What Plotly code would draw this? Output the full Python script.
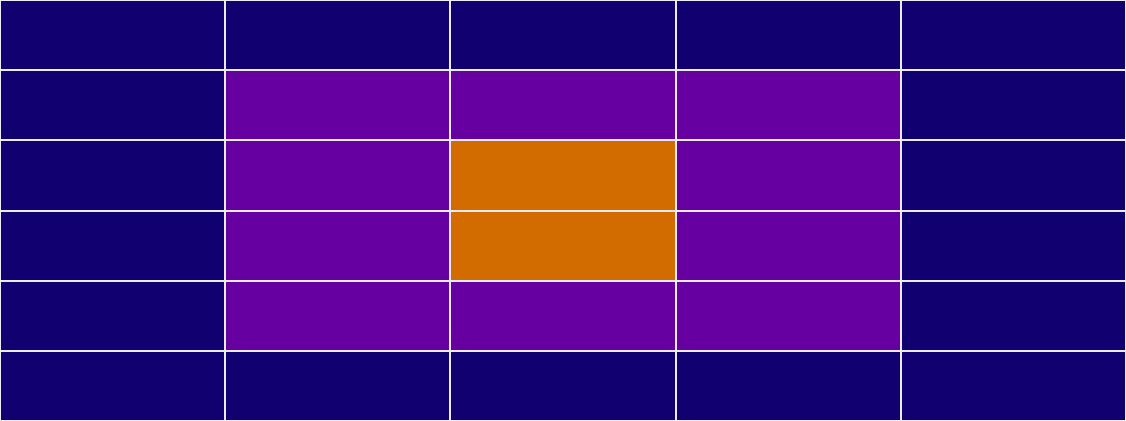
import plotly.graph_objects as go

columns = ["C1", "C2", "C3", "C4", "C5"]
rows = ["R1", "R2", "R3", "R4", "R5", "R6"]
values = [
    [0, 0, 0, 0, 0],
    [0, 1, 1, 1, 0],
    [0, 1, 2, 1, 0],
    [0, 1, 2, 1, 0],
    [0, 1, 1, 1, 0],
    [0, 0, 0, 0, 0],
]
colors = ["#110070", "#6600a0", "#d26c00"]

colorscale = [
    [0.0, colors[0]], [1/3, colors[0]],
    [1/3, colors[1]], [2/3, colors[1]],
    [2/3, colors[2]], [1.0, colors[2]],
]

fig = go.Figure(go.Heatmap(
    z=values, x=columns, y=rows,
    colorscale=colorscale, zmin=-0.5, zmax=2.5,
    showscale=False, xgap=2, ygap=2, hoverinfo="skip",
))
fig.update_layout(
    width=1126, height=421,
    margin=dict(l=0, r=0, t=0, b=0),
    paper_bgcolor="#ecebf6", plot_bgcolor="#ecebf6",
    xaxis=dict(visible=False),
    yaxis=dict(visible=False, autorange="reversed"),
)
fig.write_html(
    "out.html",
    config={"displayModeBar": False},
    post_script="document.body.style.margin='0';document.body.style.overflow='hidden';",
)
